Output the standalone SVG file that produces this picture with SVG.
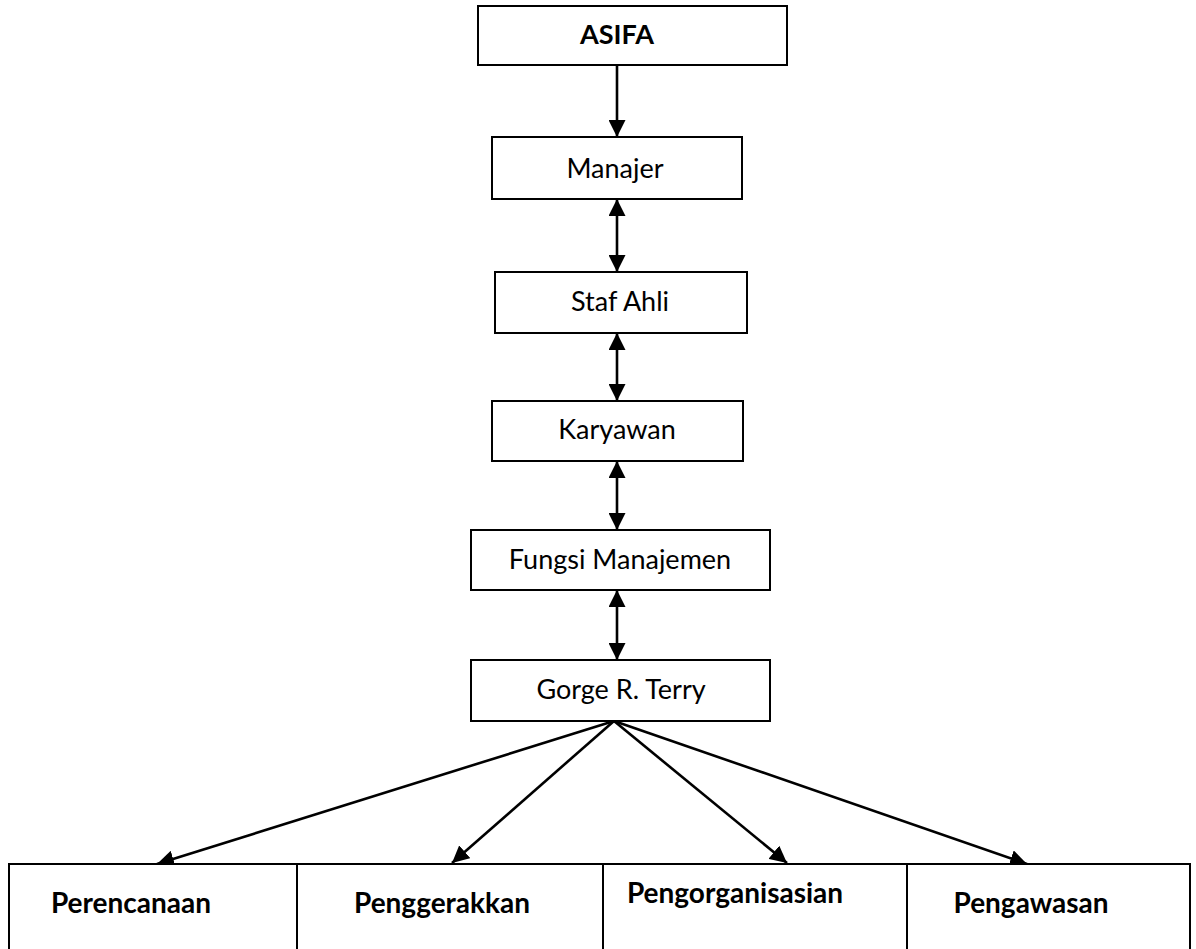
<svg xmlns="http://www.w3.org/2000/svg" width="1196" height="949" viewBox="0 0 1196 949">
<style>
.box{fill:#fff;stroke:#000;stroke-width:2}
.t{font-family:Lato,"Liberation Sans",sans-serif;font-size:27px;fill:#000;text-anchor:middle}
.b{font-weight:bold}
.l{font-size:28px}
.c{fill:none;stroke:#000;stroke-width:2.6}
</style>
<defs>
<marker id="ah" viewBox="0 0 16 16" refX="16" refY="8" markerWidth="17" markerHeight="17" markerUnits="userSpaceOnUse" orient="auto-start-reverse">
<path d="M0,0 L16,8 L0,16 z" fill="#000"/>
</marker>
</defs>
<rect width="1196" height="949" fill="#fff"/>
<g id="connectors">
<line class="c" x1="617" y1="65" x2="617" y2="137" marker-end="url(#ah)"/>
<line class="c" x1="617" y1="199" x2="617" y2="272" marker-start="url(#ah)" marker-end="url(#ah)"/>
<line class="c" x1="617" y1="333" x2="617" y2="401" marker-start="url(#ah)" marker-end="url(#ah)"/>
<line class="c" x1="617" y1="461" x2="617" y2="530" marker-start="url(#ah)" marker-end="url(#ah)"/>
<line class="c" x1="617" y1="590" x2="617" y2="660" marker-start="url(#ah)" marker-end="url(#ah)"/>
<line class="c" x1="614" y1="721" x2="157" y2="864" marker-end="url(#ah)"/>
<line class="c" x1="614" y1="721" x2="452" y2="863" marker-end="url(#ah)"/>
<line class="c" x1="614" y1="721" x2="787" y2="863" marker-end="url(#ah)"/>
<line class="c" x1="614" y1="721" x2="1027" y2="864" marker-end="url(#ah)"/>
</g>
<g id="asifa">
<rect class="box" x="478" y="6" width="309" height="59"/>
<text class="t b" x="617" y="44">ASIFA</text>
</g>
<g id="manajer">
<rect class="box" x="492" y="137" width="250" height="62"/>
<text class="t" x="615" y="178">Manajer</text>
</g>
<g id="staf-ahli">
<rect class="box" x="495" y="272" width="252" height="61"/>
<text class="t" x="620" y="311">Staf Ahli</text>
</g>
<g id="karyawan">
<rect class="box" x="492" y="401" width="251" height="60"/>
<text class="t" x="617" y="439">Karyawan</text>
</g>
<g id="fungsi-manajemen">
<rect class="box" x="471" y="530" width="299" height="60"/>
<text class="t" x="620" y="569">Fungsi Manajemen</text>
</g>
<g id="gorge-terry">
<rect class="box" x="471" y="660" width="299" height="61"/>
<text class="t" x="621" y="699">Gorge R. Terry</text>
</g>
<g id="perencanaan">
<path class="box" d="M9,949 V864 H297 V949" fill="none"/>
<text class="t b l" x="131" y="913">Perencanaan</text>
</g>
<g id="penggerakkan">
<path class="box" d="M297,864 H603 V949" fill="none"/>
<text class="t b l" x="442" y="913">Penggerakkan</text>
</g>
<g id="pengorganisasian">
<path class="box" d="M603,864 H907 V949" fill="none"/>
<text class="t b l" x="735" y="903">Pengorganisasian</text>
</g>
<g id="pengawasan">
<path class="box" d="M907,864 H1190 V949" fill="none"/>
<text class="t b l" x="1031" y="913">Pengawasan</text>
</g>
</svg>
